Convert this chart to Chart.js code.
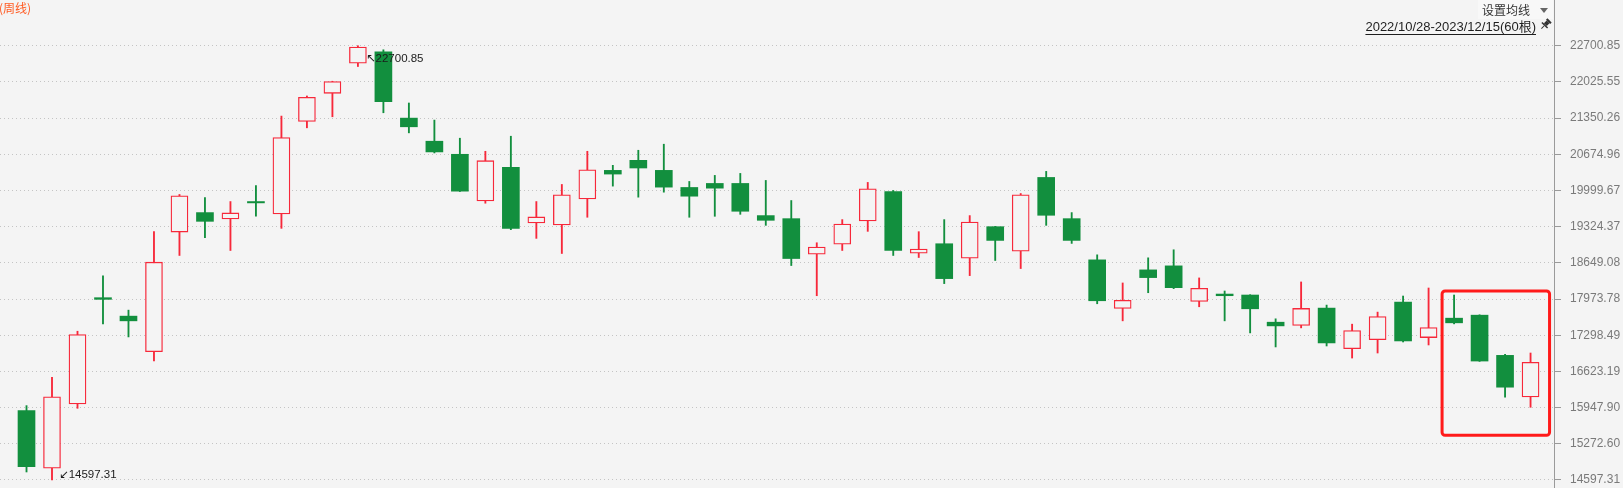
<!DOCTYPE html>
<html>
<head>
<meta charset="utf-8">
<script src="https://cdn.jsdelivr.net/npm/chart.js@4.4.1/dist/chart.umd.min.js"></script>
<style>
    html, body { margin: 0; padding: 0; background: #f4f4f4; overflow: hidden; }
    canvas { display: block; }
</style>
</head>
<body>
<canvas id="kChart" width="1623" height="488"></canvas>
<script>
const weeks = [
    "2022/10/28", "2022/11/04", "2022/11/11", "2022/11/18", "2022/11/25", "2022/12/02", "2022/12/09", "2022/12/16", "2022/12/23", "2022/12/30",
    "2023/01/06", "2023/01/13", "2023/01/20", "2023/01/27", "2023/02/03", "2023/02/10", "2023/02/17", "2023/02/24", "2023/03/03", "2023/03/10",
    "2023/03/17", "2023/03/24", "2023/03/31", "2023/04/07", "2023/04/14", "2023/04/21", "2023/04/28", "2023/05/05", "2023/05/12", "2023/05/19",
    "2023/05/26", "2023/06/02", "2023/06/09", "2023/06/16", "2023/06/23", "2023/06/30", "2023/07/07", "2023/07/14", "2023/07/21", "2023/07/28",
    "2023/08/04", "2023/08/11", "2023/08/18", "2023/08/25", "2023/09/01", "2023/09/08", "2023/09/15", "2023/09/22", "2023/09/29", "2023/10/06",
    "2023/10/13", "2023/10/20", "2023/10/27", "2023/11/03", "2023/11/10", "2023/11/17", "2023/11/24", "2023/12/01", "2023/12/08", "2023/12/15"
];

const opens = [
    15892, 14816, 16017, 17999, 17655, 16992, 19224, 19587, 19468, 19793,
    19562, 21288, 21813, 22375, 22588, 21350, 20919, 20675, 19806, 20431,
    19393, 19356, 19843, 20375, 20562, 20375, 20056, 20131, 20131, 19531,
    19474, 18811, 18999, 19431, 19981, 18831, 19006, 18737, 19324, 18868,
    20243, 19474, 18705, 17799, 18518, 18593, 17930, 18067, 18049, 17542,
    17480, 17805, 17048, 17217, 17917, 17255, 17617, 17673, 16923, 16148
];
const highs = [
    15985, 16511, 17373, 18405, 17767, 19231, 19925, 19868, 19793, 20093,
    21388, 21763, 22038, 22700.85, 22625, 21632, 21313, 20975, 20731, 21012,
    19793, 20112, 20731, 20469, 20750, 20863, 20168, 20281, 20318, 20187,
    19812, 19024, 19456, 20150, 20000, 19231, 19456, 19531, 19330, 19943,
    20356, 19587, 18799, 18274, 18743, 18893, 18368, 18124, 18055, 17605,
    18293, 17861, 17505, 17730, 18030, 18180, 18049, 17680, 16942, 16967
];
const lows = [
    14747, 14597.31, 15935, 17511, 17267, 16817, 18787, 19118, 18880, 19518,
    19293, 21169, 21375, 22313, 21450, 21075, 20700, 19980, 19762, 19268,
    19106, 18824, 19500, 20081, 19875, 19968, 19500, 19518, 19555, 19349,
    18599, 18036, 18880, 19237, 18787, 18749, 18262, 18411, 18693, 18543,
    19349, 19012, 17886, 17567, 18092, 18168, 17830, 17567, 17342, 17080,
    17436, 17098, 16873, 16967, 17173, 17117, 17511, 16810, 16142, 15954
];
const closes = [
    14847, 16148, 17311, 17968, 17567, 18662, 19900, 19424, 19581, 19768,
    20988, 21738, 22032, 22675, 21656, 21188, 20719, 19987, 20556, 19293,
    19506, 19918, 20387, 20306, 20419, 20062, 19893, 20043, 19612, 19443,
    18730, 18943, 19374, 20031, 18880, 18906, 18355, 19412, 19068, 19918,
    19537, 19068, 17942, 17949, 18374, 18186, 18174, 18036, 17792, 17473,
    17799, 17155, 17386, 17649, 17192, 17442, 17530, 16817, 16329, 16792
];

const yTicks = [
    14597.31, 15272.60, 15947.90, 16623.19, 17298.49, 17973.78, 18649.08,
    19324.37, 19999.67, 20674.96, 21350.26, 22025.55, 22700.85
];

const BG = "#f4f4f4";
const RED = "#f7283a";
const GREEN = "#128f3e";

const up = i => closes[i] >= opens[i];

const marcas = {
    id: "marcas",
    afterDraw(chart) {
        const { ctx, scales: { x, y } } = chart;
        ctx.save();

        // max / min labels
        const hi = highs.indexOf(Math.max(...highs));
        const lo = lows.indexOf(Math.min(...lows));
        ctx.font = '11.5px "Liberation Sans", "DejaVu Sans", sans-serif';
        ctx.fillStyle = "#1b1b1b";
        ctx.textBaseline = "middle";
        ctx.textAlign = "left";
        ctx.fillText("↖" + highs[hi].toFixed(2), x.getPixelForValue(hi) + 8, y.getPixelForValue(highs[hi]) + 13);
        ctx.fillText("↙" + lows[lo].toFixed(2), x.getPixelForValue(lo) + 7, y.getPixelForValue(lows[lo]) - 5);

        // highlight on the last four weeks
        const n = highs.length;
        const bx0 = x.getPixelForValue(n - 4) - 12;
        const bx1 = x.getPixelForValue(n - 1) + 19;
        const by0 = y.getPixelForValue(Math.max(...highs.slice(n - 4))) - 4;
        const by1 = y.getPixelForValue(Math.min(...lows.slice(n - 4))) + 28;
        ctx.strokeStyle = "#ff1a1a";
        ctx.lineWidth = 3;
        ctx.beginPath();
        ctx.roundRect(bx0, by0, bx1 - bx0, by1 - by0, 3);
        ctx.stroke();

        // header texts
        ctx.font = '12px "Noto Sans CJK SC", sans-serif';
        ctx.fillStyle = "#ff5a22";
        ctx.fillText("(周线)", -1, 8);

        ctx.fillStyle = "#f8f8f8";
        ctx.fillRect(1478, 0, 75, 19);
        ctx.fillStyle = "#333";
        ctx.fillText("设置均线", 1482, 10);
        ctx.fillStyle = "#666";
        ctx.beginPath();
        ctx.moveTo(1540, 8);
        ctx.lineTo(1548, 8);
        ctx.lineTo(1544, 13);
        ctx.closePath();
        ctx.fill();

        ctx.font = '13px "Liberation Sans", "Noto Sans CJK SC", sans-serif';
        ctx.fillStyle = "#1e1e1e";
        ctx.textAlign = "right";
        const rango = `${weeks[0]}-${weeks[n - 1]}(${n}根)`;
        ctx.fillText(rango, 1536, 27);
        const w = ctx.measureText(rango).width;
        ctx.fillRect(1536 - w, 34, w, 1);

        // pin
        ctx.translate(1546, 24);
        ctx.rotate(Math.PI / 4);
        ctx.fillStyle = "#333";
        ctx.fillRect(-3, -5, 6, 2);
        ctx.fillRect(-2, -3, 4, 4);
        ctx.fillRect(-4, 1, 8, 1.5);
        ctx.fillRect(-0.5, 2.5, 1, 4);

        ctx.restore();
    }
};

new Chart(document.getElementById("kChart"), {
    type: "bar",
    data: {
        labels: weeks,
        datasets: [
            {
                label: "body",
                data: weeks.map((w, i) => ({ x: i, y: [opens[i], closes[i]] })),
                backgroundColor: c => up(c.dataIndex) ? BG : GREEN,
                borderColor: c => up(c.dataIndex) ? RED : GREEN,
                borderWidth: c => up(c.dataIndex) ? 1.3 : 0,
                borderSkipped: false,
                barThickness: 17,
                minBarLength: 1,
                grouped: false
            },
            {
                label: "wick",
                data: weeks.map((w, i) => ({ x: i, y: [lows[i], highs[i]] })),
                backgroundColor: c => up(c.dataIndex) ? RED : GREEN,
                borderWidth: 0,
                barThickness: 1.2,
                grouped: false
            }
        ]
    },
    options: {
        responsive: false,
        animation: false,
        layout: { padding: 0 },
        plugins: {
            legend: { display: false },
            tooltip: { enabled: false }
        },
        scales: {
            x: {
                type: "linear",
                display: false,
                offset: false,
                bounds: "data",
                min: -1.04,
                max: 59.92,
                grid: { offset: false }
            },
            y: {
                position: "right",
                min: 14448,
                max: 23554,
                afterBuildTicks: s => { s.ticks = yTicks.map(v => ({ value: v })); },
                afterFit: s => { s.width = 69; s.paddingTop = 0; s.paddingBottom = 0; },
                grid: {
                    color: "#c4c4c4",
                    tickColor: "#9a9a9a",
                    tickLength: 7,
                    tickWidth: 1
                },
                border: { display: true, color: "#9a9a9a", width: 1, dash: [1, 3] },
                ticks: {
                    autoSkip: false,
                    padding: 9,
                    color: "#7a7a7a",
                    font: { family: '"Liberation Sans", Arial, sans-serif', size: 12 },
                    callback: v => v.toFixed(2)
                }
            }
        }
    },
    plugins: [marcas]
});
</script>
</body>
</html>
